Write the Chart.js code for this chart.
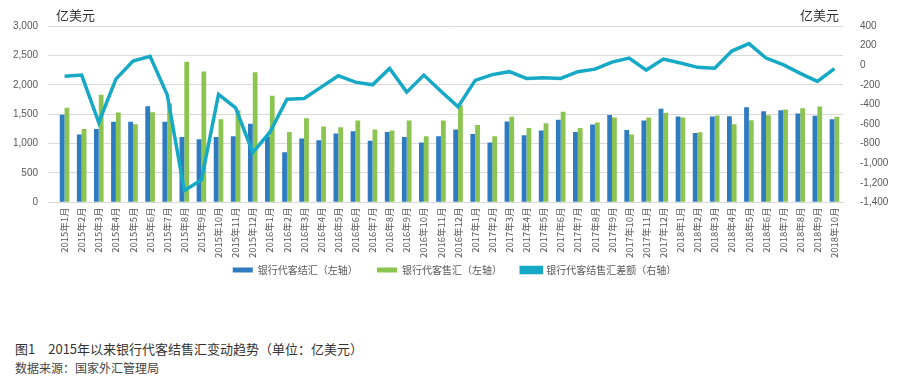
<!DOCTYPE html>
<html>
<head>
<meta charset="utf-8">
<script src="https://cdn.jsdelivr.net/npm/chart.js@4"></script>
<style>
  body { margin: 0; background: #fff; }
  #wrap { position: relative; width: 909px; height: 381px; }
  .cap { position: absolute; left: 15px; font-family: "Noto Sans CJK SC", sans-serif; color: #333; white-space: pre; }
</style>
</head>
<body>
<div id="wrap">
  <canvas id="mainChart" width="909" height="285"></canvas>
  <div class="cap" style="top:339px;font-size:13px;">图1　2015年以来银行代客结售汇变动趋势（单位：亿美元）</div>
  <div class="cap" style="top:359px;font-size:12px;color:#444;">数据来源：国家外汇管理局</div>
</div>
<script>
// meses 2015-01 .. 2018-10
const months = [
  '2015年1月','2015年2月','2015年3月','2015年4月','2015年5月','2015年6月','2015年7月','2015年8月','2015年9月','2015年10月','2015年11月','2015年12月',
  '2016年1月','2016年2月','2016年3月','2016年4月','2016年5月','2016年6月','2016年7月','2016年8月','2016年9月','2016年10月','2016年11月','2016年12月',
  '2017年1月','2017年2月','2017年3月','2017年4月','2017年5月','2017年6月','2017年7月','2017年8月','2017年9月','2017年10月','2017年11月','2017年12月',
  '2018年1月','2018年2月','2018年3月','2018年4月','2018年5月','2018年6月','2018年7月','2018年8月','2018年9月','2018年10月'
];

// 银行代客结汇（左轴）
const jiehui = [
  1490, 1155, 1250, 1370, 1370, 1636, 1370, 1113, 1073, 1113, 1125, 1336,
  1119, 852, 1088, 1056, 1170, 1210, 1046, 1199, 1113, 1017, 1125, 1238,
  1165, 1017, 1375, 1142, 1221, 1404, 1199, 1324, 1485, 1233, 1392, 1591,
  1460, 1182, 1460, 1465, 1618, 1550, 1567, 1511, 1472, 1414
];

// 银行代客售汇（左轴）
const shouhui = [
  1608, 1250, 1830, 1528, 1330, 1533, 1680, 2392, 2227, 1414, 1565, 2215,
  1813, 1199, 1431, 1290, 1278, 1392, 1238, 1221, 1392, 1125, 1392, 1650,
  1318, 1125, 1455, 1267, 1346, 1540, 1267, 1358, 1445, 1153, 1443, 1523,
  1443, 1193, 1477, 1330, 1397, 1482, 1579, 1601, 1630, 1455
];

// 银行代客结售汇差额（右轴）
const chae = [
  -114, -101, -585, -142, 42, 90, -302, -1280, -1171, -298, -435, -892,
  -684, -347, -340, -224, -107, -173, -200, -33, -275, -101, -265, -425,
  -155, -96, -66, -135, -128, -135, -66, -40, 32, 73, -50, 63,
  22, -22, -30, 144, 220, 73, 5, -84, -166, -36
];

const tickFont = { family: '"Liberation Sans", "Noto Sans CJK SC", sans-serif', size: 10 };
const cjkFont = { family: '"Noto Sans CJK SC", sans-serif', size: 9.5 };

// titulos de unidad arriba de cada eje
const unitTitles = {
  id: 'unitTitles',
  afterDraw(chart) {
    const { ctx, chartArea } = chart;
    ctx.save();
    ctx.font = '13px "Noto Sans CJK SC", sans-serif';
    ctx.fillStyle = '#333';
    ctx.textBaseline = 'middle';
    ctx.textAlign = 'left';
    ctx.fillText('亿美元', chartArea.left, 15);
    ctx.textAlign = 'right';
    ctx.fillText('亿美元', chartArea.right - 4, 15);
    ctx.restore();
  }
};

new Chart(document.getElementById('mainChart'), {
  type: 'bar',
  data: {
    labels: months,
    datasets: [
      {
        label: '银行代客结汇（左轴）',
        data: jiehui,
        backgroundColor: '#2E7BC0',
        yAxisID: 'y',
        categoryPercentage: 0.56,
        barPercentage: 1.0,
        order: 1
      },
      {
        label: '银行代客售汇（左轴）',
        data: shouhui,
        backgroundColor: '#8CC452',
        yAxisID: 'y',
        categoryPercentage: 0.56,
        barPercentage: 1.0,
        order: 2
      },
      {
        type: 'line',
        label: '银行代客结售汇差额（右轴）',
        data: chae,
        borderColor: '#16A9C6',
        backgroundColor: '#16A9C6',
        borderWidth: 3.5,
        pointRadius: 0,
        tension: 0,
        yAxisID: 'y1',
        order: 0
      }
    ]
  },
  options: {
    responsive: false,
    animation: false,
    layout: { padding: { top: 26, left: 0, right: 0, bottom: 0 } },
    plugins: {
      tooltip: { enabled: false },
      legend: {
        position: 'bottom',
        labels: {
          boxWidth: 20,
          boxHeight: 5,
          padding: 2,
          color: '#595959',
          font: { family: '"Noto Sans CJK SC", sans-serif', size: 10 },
          // espacio extra entre items
          generateLabels(chart) {
            const items = Chart.defaults.plugins.legend.labels.generateLabels(chart);
            items.forEach(it => { if (it.datasetIndex < 2) it.text += '\u3000\u3000 '; });
            return items;
          },
          sort: (a, b) => a.datasetIndex - b.datasetIndex
        }
      }
    },
    scales: {
      x: {
        grid: { display: false, drawTicks: false },
        border: { color: '#d9d9d9' },
        ticks: {
          color: '#595959',
          font: cjkFont,
          minRotation: 90,
          maxRotation: 90,
          autoSkip: false,
          padding: 5
        }
      },
      y: {
        position: 'left',
        min: 0,
        max: 3000,
        grid: { color: '#d9d9d9' },
        border: { display: false },
        ticks: {
          stepSize: 500,
          color: '#595959',
          font: tickFont,
          padding: 10,
          callback: v => v.toLocaleString('en-US')
        },
        afterFit(scale) { scale.width = 56; }
      },
      y1: {
        position: 'right',
        min: -1400,
        max: 400,
        grid: { display: false },
        border: { display: false },
        ticks: {
          stepSize: 200,
          color: '#595959',
          font: tickFont,
          padding: 9,
          callback: v => v.toLocaleString('en-US')
        },
        afterFit(scale) { scale.width = 66; }
      }
    }
  },
  plugins: [unitTitles]
});
</script>
</body>
</html>
